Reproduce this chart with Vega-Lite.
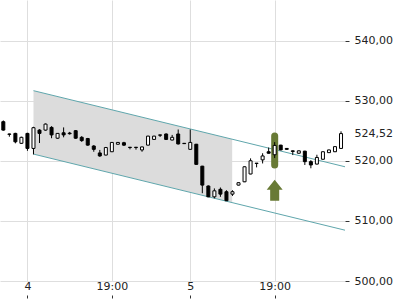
{
  "$schema": "https://vega.github.io/schema/vega-lite/v6.json",
  "width": 345,
  "height": 281,
  "padding": 0,
  "background": "white",
  "config": {"view": {"stroke": null}, "font": "DejaVu Sans"},
  "datasets": {
    "candles": [
      {"i":0,"o":526.5,"h":526.7,"l":525.0,"c":525.1},
      {"i":1,"o":524.45,"h":524.5,"l":524.0,"c":524.4},
      {"i":2,"o":524.55,"h":524.65,"l":522.9,"c":523.15},
      {"i":3,"o":522.9,"h":524.0,"l":522.8,"c":523.9},
      {"i":4,"o":524.55,"h":524.65,"l":521.65,"c":522.05},
      {"i":5,"o":522.05,"h":525.65,"l":521.05,"c":525.5},
      {"i":6,"o":525.1,"h":525.25,"l":522.95,"c":524.55},
      {"i":7,"o":525.1,"h":526.2,"l":525.0,"c":526.1},
      {"i":8,"o":525.55,"h":525.75,"l":523.75,"c":524.3},
      {"i":9,"o":523.75,"h":524.6,"l":523.65,"c":524.55},
      {"i":10,"o":524.65,"h":525.55,"l":523.9,"c":524.3},
      {"i":11,"o":524.6,"h":524.8,"l":524.35,"c":524.5},
      {"i":12,"o":525.0,"h":525.1,"l":523.65,"c":523.75},
      {"i":13,"o":523.9,"h":524.1,"l":523.15,"c":523.35},
      {"i":14,"o":523.7,"h":523.8,"l":522.5,"c":522.6},
      {"i":15,"o":522.45,"h":522.6,"l":521.5,"c":521.9},
      {"i":16,"o":521.3,"h":521.8,"l":520.65,"c":520.8},
      {"i":17,"o":520.95,"h":522.3,"l":520.9,"c":522.2},
      {"i":18,"o":521.5,"h":523.1,"l":521.45,"c":523.05},
      {"i":19,"o":522.75,"h":523.1,"l":522.7,"c":523.05},
      {"i":20,"o":523.0,"h":523.15,"l":522.45,"c":522.6},
      {"i":21,"o":522.25,"h":522.25,"l":521.9,"c":522.2},
      {"i":22,"o":522.25,"h":522.25,"l":521.85,"c":522.2},
      {"i":23,"o":521.8,"h":522.35,"l":521.5,"c":522.3},
      {"i":24,"o":522.6,"h":524.15,"l":522.55,"c":524.1},
      {"i":25,"o":523.55,"h":524.15,"l":523.5,"c":524.1},
      {"i":26,"o":524.3,"h":524.3,"l":523.95,"c":524.25},
      {"i":27,"o":524.45,"h":524.55,"l":523.45,"c":523.55},
      {"i":28,"o":523.45,"h":524.3,"l":523.4,"c":523.9},
      {"i":29,"o":524.45,"h":525.2,"l":522.7,"c":522.8},
      {"i":30,"o":522.9,"h":522.9,"l":522.85,"c":522.85},
      {"i":31,"o":521.9,"h":525.2,"l":521.85,"c":523.05},
      {"i":32,"o":522.75,"h":522.8,"l":519.35,"c":519.4},
      {"i":33,"o":519.1,"h":519.15,"l":514.6,"c":515.95},
      {"i":34,"o":515.8,"h":515.9,"l":513.95,"c":514.0},
      {"i":35,"o":514.0,"h":515.4,"l":513.75,"c":515.0},
      {"i":36,"o":515.25,"h":515.55,"l":514.0,"c":514.45},
      {"i":37,"o":514.85,"h":515.1,"l":513.3,"c":513.35},
      {"i":38,"o":514.45,"h":515.1,"l":514.15,"c":514.85},
      {"i":39,"o":515.95,"h":516.4,"l":515.9,"c":516.35},
      {"i":40,"o":516.5,"h":519.05,"l":516.45,"c":519.0},
      {"i":41,"o":517.8,"h":520.4,"l":517.75,"c":520.0},
      {"i":42,"o":519.6,"h":519.6,"l":518.9,"c":519.55},
      {"i":43,"o":520.15,"h":521.25,"l":519.55,"c":520.8},
      {"i":44,"o":521.5,"h":522.2,"l":521.2,"c":521.25},
      {"i":45,"o":521.0,"h":523.1,"l":520.45,"c":522.55},
      {"i":46,"o":522.6,"h":522.65,"l":521.75,"c":521.8},
      {"i":47,"o":522.05,"h":522.1,"l":521.85,"c":521.9},
      {"i":48,"o":521.65,"h":521.7,"l":520.95,"c":521.55},
      {"i":49,"o":521.25,"h":521.7,"l":521.2,"c":521.65},
      {"i":50,"o":521.6,"h":521.65,"l":519.3,"c":519.85},
      {"i":51,"o":519.85,"h":520.1,"l":518.75,"c":519.3},
      {"i":52,"o":519.45,"h":521.0,"l":519.4,"c":520.55},
      {"i":53,"o":520.25,"h":521.55,"l":520.2,"c":521.5},
      {"i":54,"o":521.35,"h":521.85,"l":521.3,"c":521.8},
      {"i":55,"o":521.5,"h":522.4,"l":521.45,"c":522.35},
      {"i":56,"o":522.05,"h":524.9,"l":522.0,"c":524.52}
    ],
    "band": [
      {"i":5,"up":531.66,"lo":521.11},
      {"i":37.95,"up":523.59,"lo":513.04}
    ],
    "channel": [
      {"line":"upper","i":5,"v":531.66},
      {"line":"upper","i":56.66,"v":519.0},
      {"line":"lower","i":5,"v":521.11},
      {"line":"lower","i":56.66,"v":508.45}
    ],
    "marker": [
      {"i":45,"top":524.1,"bottom":519.3,"arrow":515.1}
    ]
  },
  "encoding": {
    "x": {
      "field": "i",
      "type": "quantitative",
      "title": null,
      "scale": {"domain": [-0.55, 56.66], "nice": false, "zero": false, "padding": 0},
      "axis": {
        "values": [4, 18, 31, 45],
        "labelExpr": "datum.value == 4 ? '4' : datum.value == 31 ? '5' : '19:00'",
        "grid": true,
        "gridColor": "#dedede",
        "domain": false,
        "ticks": true,
        "tickSize": 17,
        "tickDash": [0, 14, 3, 20],
        "tickColor": "#333",
        "labelPadding": -18,
        "labelFontSize": 11,
        "labelColor": "#222",
        "labelFont": "DejaVu Sans",
        "labelFlush": false
      }
    }
  },
  "layer": [
    {
      "data": {"name": "band"},
      "mark": {"type": "area", "color": "#dcdcdc", "opacity": 1},
      "encoding": {
        "y": {
          "field": "up", "type": "quantitative", "title": null,
          "scale": {"domain": [500, 546.74], "nice": false, "zero": false},
          "axis": {
            "orient": "right",
            "values": [500, 510, 520, 524.52, 530, 540],
            "labelExpr": "replace(format(datum.value, '.2f'), '.', ',')",
            "grid": true,
            "gridColor": "#dedede",
            "gridOpacity": {"condition": {"test": "datum.value == 524.52", "value": 0}, "value": 1},
            "tickOpacity": {"condition": {"test": "datum.value == 524.52", "value": 0}, "value": 1},
            "domain": false,
            "tickSize": 4,
            "tickColor": "#333",
            "labelPadding": 5,
            "labelFontSize": 11,
            "labelColor": "#222",
            "labelFont": "DejaVu Sans"
          }
        },
        "y2": {"field": "lo"}
      }
    },
    {
      "data": {"name": "channel"},
      "mark": {"type": "line", "color": "#5fa6ac", "strokeWidth": 1},
      "encoding": {
        "y": {"field": "v", "type": "quantitative", "title": null},
        "detail": {"field": "line"}
      }
    },
    {
      "data": {"name": "marker"},
      "mark": {"type": "rule", "color": "#687a35", "strokeWidth": 7, "strokeCap": "round"},
      "encoding": {
        "y": {"field": "top", "type": "quantitative", "title": null},
        "y2": {"field": "bottom"}
      }
    },
    {
      "data": {"name": "marker"},
      "mark": {
        "type": "point",
        "shape": "M0,-1 L0.76,-0.05 L0.43,-0.05 L0.43,1 L-0.43,1 L-0.43,-0.05 L-0.76,-0.05 Z",
        "size": 441,
        "filled": true,
        "color": "#687a35",
        "opacity": 1,
        "strokeWidth": 0
      },
      "encoding": {
        "y": {"field": "arrow", "type": "quantitative", "title": null}
      }
    },
    {
      "data": {"name": "candles"},
      "mark": {"type": "rule", "color": "black", "strokeWidth": 1},
      "encoding": {
        "y": {"field": "l", "type": "quantitative", "title": null},
        "y2": {"field": "h"}
      }
    },
    {
      "data": {"name": "candles"},
      "mark": {"type": "bar", "size": 3, "stroke": "black", "strokeWidth": 1},
      "encoding": {
        "y": {"field": "o", "type": "quantitative", "title": null},
        "y2": {"field": "c"},
        "fill": {"condition": {"test": "datum.c < datum.o", "value": "black"}, "value": "white"}
      }
    }
  ]
}
